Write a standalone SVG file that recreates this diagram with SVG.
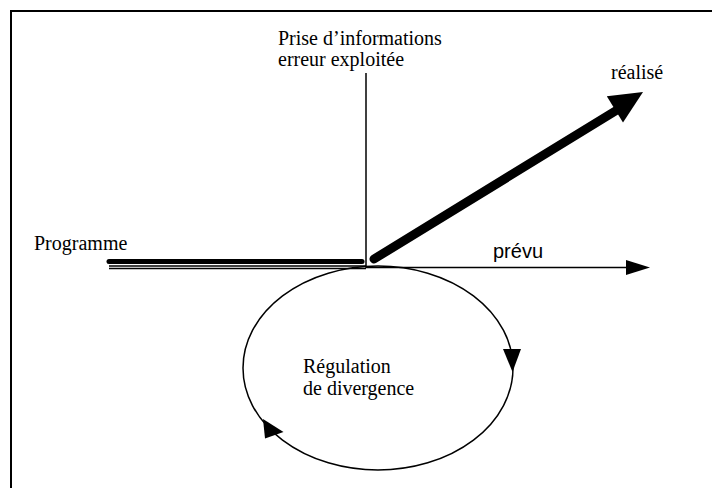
<svg xmlns="http://www.w3.org/2000/svg" width="712" height="488" viewBox="0 0 712 488">
  <style>
    .serif { font-family: "Liberation Serif", "Times New Roman", serif; font-size: 20px; fill: #000; }
    .sans { font-family: "Liberation Sans", Arial, sans-serif; font-size: 20px; fill: #000; }
    .thin { fill: none; stroke: #000; stroke-width: 1.5; }
    .thick { fill: none; stroke: #000; stroke-linecap: round; }
    .head { fill: #000; stroke: none; }
  </style>
  <rect x="0" y="0" width="712" height="488" fill="#fff"/>
  <g id="frame">
    <path d="M11,492 V11 H716" fill="none" stroke="#000" stroke-width="2"/>
  </g>
  <g id="connectors">
    <line id="axis-vertical" class="thin" x1="366" y1="73" x2="366" y2="268"/>
    <line id="programme-line" class="thick" x1="109" y1="261.5" x2="362" y2="261.5" stroke-width="5"/>
    <line class="thin" x1="109" y1="266" x2="366" y2="266" stroke-width="1"/>
    <line class="thin" x1="109" y1="268.5" x2="366" y2="268.5" stroke-width="1"/>
    <line id="prevu-arrow" class="thin" x1="366" y1="267.5" x2="630" y2="267.5"/>
    <polygon class="head" points="626,260 650,267.5 626,275"/>
    <line id="realise-arrow" class="thick" x1="374" y1="259" x2="617" y2="110" stroke-width="9"/>
    <polygon class="head" points="643,92 623,122.6 606.8,96.2"/>
    <ellipse id="loop" class="thin" cx="378" cy="368" rx="135" ry="102"/>
    <polygon class="head" points="503,349 521,349 512.5,372"/>
    <polygon class="head" points="263,419 265,438.5 283.5,432"/>
  </g>
  <g id="node-prise">
    <text class="serif" x="278" y="45">Prise d’informations</text>
    <text class="serif" x="278" y="66">erreur exploitée</text>
  </g>
  <g id="node-realise">
    <text class="serif" x="611" y="79">réalisé</text>
  </g>
  <g id="node-programme">
    <text class="serif" x="34" y="250">Programme</text>
  </g>
  <g id="node-prevu">
    <text class="sans" x="493" y="258">prévu</text>
  </g>
  <g id="node-regulation">
    <text class="serif" x="303" y="373">Régulation</text>
    <text class="serif" x="303" y="395">de divergence</text>
  </g>
</svg>
